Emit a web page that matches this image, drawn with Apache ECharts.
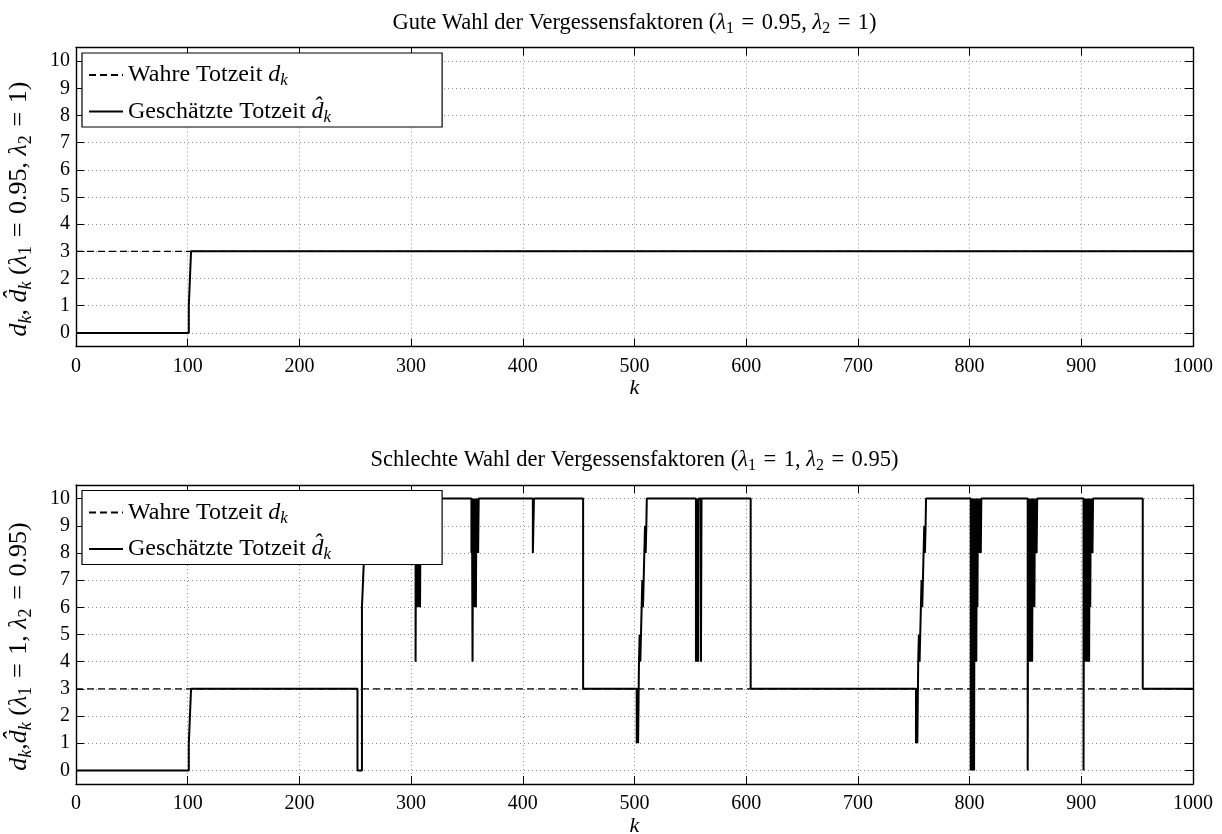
<!DOCTYPE html>
<html>
<head>
<meta charset="utf-8">
<script src="https://cdn.jsdelivr.net/npm/echarts@6/dist/echarts.min.js"></script>
<style>
html, body { margin: 0; padding: 0; background: #fff; }
#chart { width: 1222px; height: 834px; }
</style>
</head>
<body>
<div id="chart"></div>
<script>
// Sample axis and tick values
const K_MIN = 0;
const K_MAX = 1000;
const K_STEP = 100;
const Y_TICKS = [0, 1, 2, 3, 4, 5, 6, 7, 8, 9, 10];

// True dead time d_k (same in both runs): [k, value]
const trueDelay = [[0, 3], [1000, 3]];

// Estimated dead time, good forgetting factors: [k, value] at each change
const estGood = [[0, 0], [101, 1], [102, 2], [103, 3], [1000, 3]];

// Estimated dead time, poor forgetting factors: [k, value] at each change
const estBad = [
  [0, 0], [101, 1], [102, 2], [103, 3],
  [252, 0], [256, 6], [257, 7], [258, 8], [259, 9], [260, 10],
  [304, 4], [304.5, 10], [305, 6], [305.5, 10], [306, 6], [306.5, 10], [307, 6], [307.5, 10], [308, 6], [308.5, 10],
  [354, 8], [354.5, 10], [355, 4], [355.5, 10], [356, 6], [356.5, 10], [357, 6], [357.5, 10], [358, 6], [358.5, 10],
  [359, 8], [359.5, 10], [360, 8], [360.5, 10],
  [409, 8], [410, 10],
  [454, 3],
  [502, 1], [502.6, 3], [503.2, 1], [504, 4], [504.6, 5], [505.2, 4], [505.8, 5], [506.4, 6], [507, 7], [507.6, 6],
  [508.2, 7], [508.8, 8], [509.4, 9], [510, 8], [510.6, 9], [511, 10],
  [555, 4], [555.5, 10], [556, 4], [556.5, 10], [557, 4], [557.5, 10], [559.5, 4], [560, 10],
  [604, 3],
  [752, 1], [752.6, 3], [753.2, 1], [754, 4], [754.6, 5], [755.2, 4], [755.8, 5], [756.4, 6], [757, 7], [757.6, 6],
  [758.2, 7], [758.8, 8], [759.4, 9], [760, 8], [760.6, 9], [761, 10],
  [801, 0], [801.5, 10], [802, 0], [802.5, 10], [803, 0], [803.5, 10], [804, 0], [804.5, 10], [805, 4], [805.5, 10],
  [806, 4], [806.5, 10], [807, 6], [807.5, 10], [808, 8], [808.5, 10], [809, 8], [809.5, 10], [810, 8], [810.5, 10],
  [852, 0], [852.5, 10], [853, 4], [853.5, 10], [854, 4], [854.5, 10], [855, 4], [855.5, 10], [856, 4], [856.5, 10],
  [857, 6], [857.5, 10], [858, 6], [858.5, 10], [859, 8], [859.5, 10], [860, 8], [860.5, 10],
  [902, 0], [902.5, 10], [903, 4], [903.5, 10], [904, 4], [904.5, 10], [905, 4], [905.5, 10], [906, 4], [906.5, 10],
  [907, 4], [907.5, 10], [908, 6], [908.5, 10], [909, 8], [909.5, 10], [910, 8], [910.5, 10],
  [955, 3], [1000, 3]
];

const NAME_TRUE = 'Wahre Totzeit';
const NAME_EST = 'Geschätzte Totzeit';

const FONT = 'Liberation Serif';
const SP = '\u2004'; // slightly wider space around relation signs

// Rich text styles: n = upright, i = math italic, s = italic subscript, d = upright subscript
function rich(size) {
  const L = Math.round(size * 1.2);
  const subSize = Math.round(size * 0.7);
  const subH = Math.round(size * 0.55);
  const base = { fontFamily: FONT, color: '#000', fontWeight: 'normal', lineHeight: L };
  return {
    n: Object.assign({}, base, { fontSize: size }),
    i: Object.assign({}, base, { fontSize: size, fontStyle: 'italic' }),
    s: Object.assign({}, base, { fontSize: subSize, fontStyle: 'italic', lineHeight: subH, verticalAlign: 'bottom' }),
    d: Object.assign({}, base, { fontSize: subSize, lineHeight: subH, verticalAlign: 'bottom' })
  };
}

const GRID_LEFT = 76;
const GRID_W = 1117;
const GRID_H = 299;
const GRID_TOPS = [47.5, 485];

const eq = '{n|' + SP + '=' + SP;
const titles = [
  '{n|Gute Wahl der Vergessensfaktoren (}{i|λ}{d|1}' + eq + '0.95, }{i|λ}{d|2}' + eq + '1)}',
  '{n|Schlechte Wahl der Vergessensfaktoren (}{i|λ}{d|1}' + eq + '1, }{i|λ}{d|2}' + eq + '0.95)}'
];
const yNames = [
  '{i|d}{s|k}{n|, }{i|d\u0302}{s|k}{n| (}{i|λ}{d|1}' + eq + '0.95, }{i|λ}{d|2}' + eq + '1)}',
  '{i|d}{s|k}{n|,}{i|d\u0302}{s|k}{n| (}{i|λ}{d|1}' + eq + '1, }{i|λ}{d|2}' + eq + '0.95)}'
];

const gridLine = { show: true, lineStyle: { color: '#8a8a8a', width: 1, type: [1, 3] } };
const frameLine = { show: true, onZero: false, lineStyle: { color: '#000', width: 1.4 } };
const tickStyle = { show: true, inside: true, length: 8, lineStyle: { color: '#000', width: 1 } };

const grid = GRID_TOPS.map(t => ({
  left: GRID_LEFT, top: t, width: GRID_W, height: GRID_H,
  containLabel: false, outerBoundsMode: 'none'
}));

const xAxis = [];
const yAxis = [];
GRID_TOPS.forEach((t, gi) => {
  xAxis.push({
    gridIndex: gi, type: 'value', position: 'bottom',
    min: K_MIN, max: K_MAX, interval: K_STEP,
    axisLine: frameLine, axisTick: tickStyle,
    axisLabel: { show: true, margin: 10, fontFamily: FONT, fontSize: 20, color: '#000', formatter: v => String(v) },
    splitLine: gridLine,
    name: 'k', nameLocation: 'middle', nameGap: 23,
    nameTextStyle: { fontFamily: FONT, fontSize: 22, fontStyle: 'italic', color: '#000' }
  });
  xAxis.push({
    gridIndex: gi, type: 'value', position: 'top',
    min: K_MIN, max: K_MAX, interval: K_STEP,
    axisLine: frameLine, axisTick: tickStyle,
    axisLabel: { show: false }, splitLine: { show: false }
  });
  yAxis.push({
    gridIndex: gi, type: 'value', position: 'left',
    min: -0.5, max: 10.5,
    axisLine: frameLine,
    axisTick: Object.assign({}, tickStyle, { customValues: Y_TICKS }),
    axisLabel: { show: true, customValues: Y_TICKS, margin: 6, fontFamily: FONT, fontSize: 20, color: '#000' },
    splitLine: gridLine,
    name: yNames[gi], nameLocation: 'middle', nameGap: 41,
    nameTextStyle: { rich: rich(26), padding: [0, 24, 0, 0] }
  });
  yAxis.push({
    gridIndex: gi, type: 'value', position: 'right',
    min: -0.5, max: 10.5,
    axisLine: frameLine,
    axisTick: Object.assign({}, tickStyle, { customValues: Y_TICKS }),
    axisLabel: { show: false, customValues: Y_TICKS }, splitLine: { show: false }
  });
});

const trueStyle = { color: '#000', width: 1.4, type: [7, 4] };
const estStyle = { color: '#000', width: 2, type: 'solid' };

function seriesPair(gi, est) {
  return [
    {
      name: NAME_TRUE, type: 'line', xAxisIndex: gi * 2, yAxisIndex: gi * 2,
      data: trueDelay, showSymbol: false, symbol: 'none',
      lineStyle: trueStyle, itemStyle: { color: '#000' }, z: 2
    },
    {
      name: NAME_EST, type: 'line', xAxisIndex: gi * 2, yAxisIndex: gi * 2,
      data: est, step: 'end', showSymbol: false, symbol: 'none',
      lineStyle: estStyle, itemStyle: { color: '#000' }, z: 3
    }
  ];
}

const legendRich = rich(24);
const legend = GRID_TOPS.map((t, gi) => ({
  left: 82, top: t + 5.5, orient: 'vertical',
  data: [NAME_TRUE, NAME_EST],
  itemWidth: 34, itemHeight: 14, itemGap: 10,
  padding: [10, 111, 1, 6],
  backgroundColor: '#fff', borderColor: '#000', borderWidth: 1.2, borderRadius: 0,
  selectedMode: false,
  itemStyle: { opacity: 0, borderWidth: 0 },
  formatter: name => name === NAME_TRUE
    ? '{n|Wahre Totzeit }{i|d}{s|k}'
    : '{n|Geschätzte Totzeit }{i|d\u0302}{s|k}',
  textStyle: { rich: legendRich }
}));

const title = GRID_TOPS.map((t, gi) => ({
  text: titles[gi],
  left: GRID_LEFT + GRID_W / 2, top: t - 38, textAlign: 'center', padding: 0,
  textStyle: { rich: rich(22.5), fontWeight: 'normal' }
}));

const chart = echarts.init(document.getElementById('chart'), null, { renderer: 'canvas' });
chart.setOption({
  animation: false,
  backgroundColor: '#fff',
  title: title,
  legend: legend,
  grid: grid,
  xAxis: xAxis,
  yAxis: yAxis,
  series: seriesPair(0, estGood).concat(seriesPair(1, estBad))
});
</script>
</body>
</html>
